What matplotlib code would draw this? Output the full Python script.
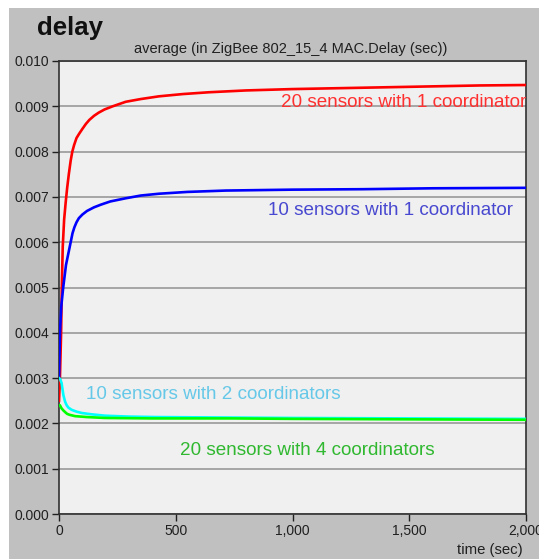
import matplotlib
matplotlib.use('Agg')
import matplotlib.pyplot as plt
from matplotlib.patches import Rectangle
from matplotlib.ticker import FuncFormatter

# time (sec) / delay (sec)
t_red = [0, 4, 9, 12, 16, 22, 29, 35, 42, 50, 57, 65, 75, 87, 100, 115, 130, 150, 170, 195, 230, 286, 350, 428, 530, 642, 800, 998, 1200, 1400, 1600, 1800, 2000]
d_red = [0.0025, 0.0030, 0.0040, 0.0050, 0.0059, 0.0065, 0.0069, 0.0072, 0.0075, 0.0078, 0.0080, 0.00815, 0.0083, 0.0084, 0.0085, 0.00861, 0.00870, 0.00879, 0.00886, 0.00893, 0.00900, 0.0091, 0.00916, 0.00922, 0.00927, 0.00931, 0.00935, 0.00938, 0.00940, 0.00942, 0.00944, 0.00946, 0.00947]

t_blue = [0, 1, 4, 10, 18, 30, 42, 50, 58, 66, 75, 85, 100, 120, 150, 180, 220, 286, 350, 428, 550, 714, 998, 1300, 1600, 2000]
d_blue = [0.0030, 0.0032, 0.0040, 0.0046, 0.0050, 0.0055, 0.0058, 0.0060, 0.0062, 0.00633, 0.00644, 0.00653, 0.00661, 0.00669, 0.00677, 0.00683, 0.00690, 0.00697, 0.00703, 0.00707, 0.00711, 0.00714, 0.00716, 0.00717, 0.00719, 0.00720]

t_cyan = [0, 5, 11, 15, 19, 26, 33, 40, 54, 75, 97, 140, 197, 300, 411, 700, 1000, 1500, 2000]
d_cyan = [0.0030, 0.00298, 0.00289, 0.00275, 0.00262, 0.00248, 0.00240, 0.00235, 0.00230, 0.00226, 0.00223, 0.00220, 0.00217, 0.00215, 0.00214, 0.00213, 0.00212, 0.00211, 0.00210]

t_green = [0, 4, 10, 18, 26, 35, 45, 69, 120, 197, 400, 740, 1000, 1500, 2000]
d_green = [0.0024, 0.0024, 0.00234, 0.00229, 0.00225, 0.00221, 0.00219, 0.00216, 0.00214, 0.00212, 0.00211, 0.00211, 0.00210, 0.00209, 0.00208]

labels = ['20 sensors with 1 coordinator', '10 sensors with 1 coordinator',
          '10 sensors with 2 coordinators', '20 sensors with 4 coordinators']

plt.rcParams['font.family'] = ['Liberation Sans', 'DejaVu Sans']

fig = plt.figure(figsize=(5.39, 5.59), dpi=100, facecolor='white')
fig.patches.append(Rectangle((9 / 539, 0), 1, 551 / 559, transform=fig.transFigure,
                             facecolor='#c0c0c0', edgecolor='none', zorder=-10))

ax = fig.add_axes([59 / 539, 45 / 559, 467 / 539, 453 / 559])
ax.set_facecolor('#f0f0f0')

ax.plot(t_red, d_red, color='#ff0000', lw=1.9, zorder=3)
ax.plot(t_blue, d_blue, color='#0000ff', lw=1.9, zorder=3)
ax.plot(t_cyan, d_cyan, color='#00ffff', lw=1.9, zorder=3)
ax.plot(t_green, d_green, color='#00ff00', lw=1.9, zorder=4)

ax.set_xlim(0, 2000)
ax.set_ylim(0, 0.010)
ax.set_yticks([i * 0.001 for i in range(11)])
ax.set_xticks([0, 500, 1000, 1500, 2000])
ax.yaxis.set_major_formatter(FuncFormatter(lambda v, p: '%.3f' % v))
ax.xaxis.set_major_formatter(FuncFormatter(lambda v, p: '{:,}'.format(int(v))))
ax.tick_params(direction='out', length=5, width=1, labelsize=10, colors='#202020', pad=2)
ax.yaxis.grid(True, color='#a0a0a0', lw=1.3)
ax.set_axisbelow(True)
for s in ax.spines.values():
    s.set_color('#303030')
    s.set_linewidth(1.2)

ax.text(951, 0.00909, labels[0], color='#ff3030', fontsize=13.6, va='center')
ax.text(895, 0.00669, labels[1], color='#4848d0', fontsize=13.6, va='center')
ax.text(116, 0.00263, labels[2], color='#66c8e8', fontsize=13.6, va='center')
ax.text(518, 0.00141, labels[3], color='#30b830', fontsize=13.6, va='center')

fig.text(37 / 539, 1 - 28 / 559, 'delay', fontsize=18.5, fontweight='bold', va='center', color='#101010')
fig.text(291 / 539, 1 - 49 / 559, 'average (in ZigBee 802_15_4 MAC.Delay (sec))',
         fontsize=10.5, ha='center', va='center', color='#202020')
fig.text(523 / 539, 1 - 550 / 559, 'time (sec)', fontsize=10.7, ha='right', va='center', color='#202020')

fig.savefig('out.png', dpi=100, facecolor=fig.get_facecolor())
